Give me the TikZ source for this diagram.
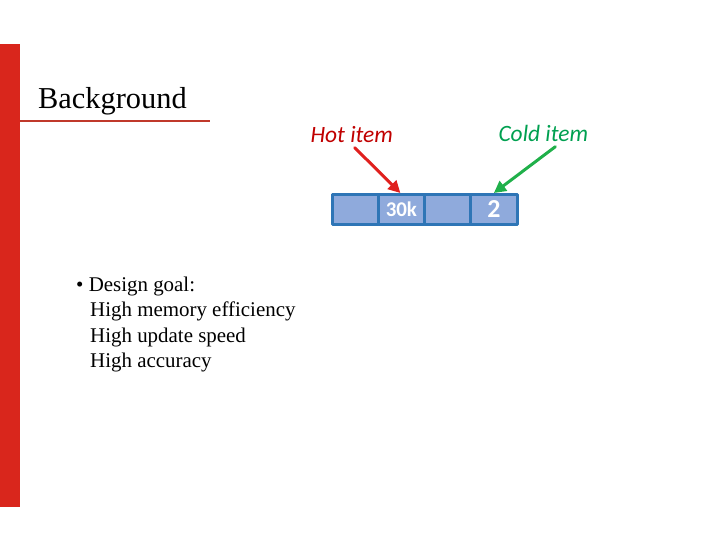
\documentclass[tikz,border=0pt]{standalone}
\usepackage{fontspec}
\setmainfont{Liberation Serif}
\newfontfamily\calibri{Carlito}
\usetikzlibrary{arrows.meta}
\definecolor{barred}{HTML}{D9261C}
\definecolor{rulered}{HTML}{C0392B}
\definecolor{hotred}{HTML}{C00000}
\definecolor{coldgreen}{HTML}{00A050}
\definecolor{arrred}{HTML}{E0201E}
\definecolor{arrgreen}{HTML}{20B04A}
\definecolor{cellblue}{HTML}{2E75B6}
\definecolor{cellfill}{HTML}{8FAADC}
\tikzset{
  cell/.style={draw=cellblue, fill=cellfill, line width=3bp, minimum width=46.25bp,
    minimum height=30bp, inner sep=0pt, text=white},
  bodytext/.style={anchor=base west, inner sep=0pt, font=\fontsize{21}{25}\selectfont},
  itemlbl/.style={anchor=base west, font=\calibri\itshape\fontsize{23.5}{23.5}\selectfont},
  itemarrow/.style={line width=3bp, -{Triangle[length=12bp,width=12bp]}}
}
\begin{document}
\begin{tikzpicture}[x=1bp, y=-1bp, line cap=round, line join=round]
    \useasboundingbox (0,0) rectangle (720,540);
    \def\xleft{332}
    \def\ymid{209.5}
    \fill[barred] (0,44) rectangle (20,507);
    \draw[rulered, line width=2.5bp, line cap=butt] (20,121) -- (210,121);
    \node[anchor=base west, inner sep=0pt, font=\fontsize{30.5}{30.5}\selectfont] (title) at (38,109) {Background};
    \node[bodytext] (goal) at (76,291) {\textbullet\ Design goal:};
    \node[bodytext] (memory) at (90,316.5) {High memory efficiency};
    \node[bodytext] (update) at (90,342) {High update speed};
    \node[bodytext] (accuracy) at (90,367.5) {High accuracy};
    \foreach \i/\lbl/\fs in {1//21,2/30k/21,3//21,4/2/26}
      \node[cell, font=\calibri\bfseries\fontsize{\fs}{\fs}\selectfont] (c\i) at (\xleft+\i*46.25-23.125,\ymid) {\lbl};
    \node[itemlbl, text=hotred] (hot) at (307,143) {Hot item};
    \node[itemlbl, text=coldgreen] (cold) at (495,142) {Cold item};
    \draw[itemarrow, arrred] ([xshift=3bp,yshift=-1bp]hot.south) -- ([xshift=-1bp]c2.north);
    \draw[itemarrow, arrgreen] ([xshift=12bp,yshift=-1bp]cold.south) -- (c4.north);
  \end{tikzpicture}
\end{document}
